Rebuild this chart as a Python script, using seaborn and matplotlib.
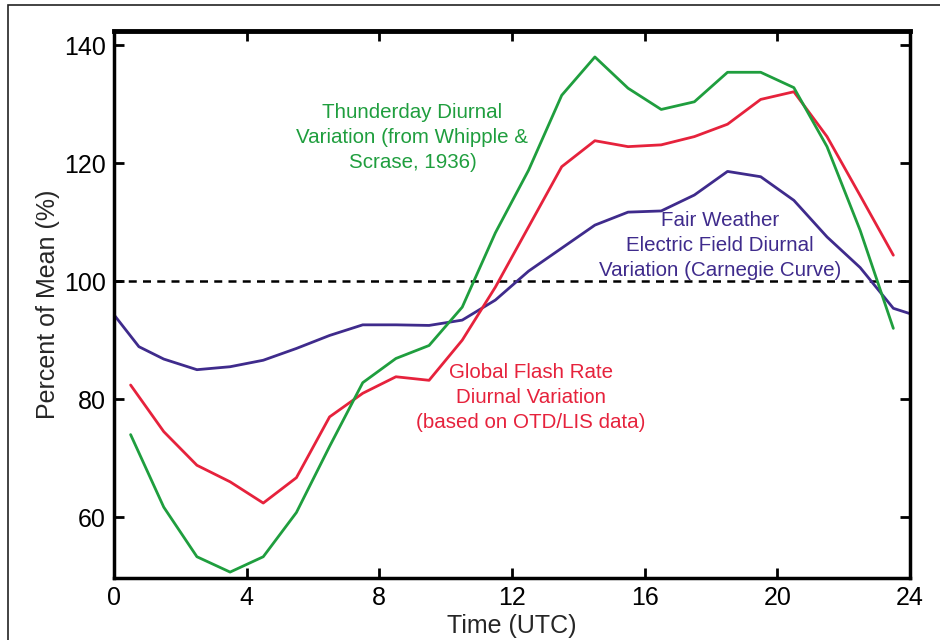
import numpy as np
import pandas as pd
import matplotlib.pyplot as plt
from matplotlib.patches import Rectangle
import seaborn as sns

# hours (UTC) and percent-of-mean values
hours_thunder = [0.5, 1.5, 2.5, 3.5, 4.5, 5.5, 6.5, 7.5, 8.5, 9.5, 10.5, 11.5,
                 12.5, 13.5, 14.5, 15.5, 16.5, 17.5, 18.5, 19.5, 20.5, 21.5, 22.5, 23.5]
thunder = [74.0, 61.7, 53.3, 50.7, 53.3, 60.8, 72.0, 82.8, 86.9, 89.1, 95.6, 108.2,
           118.8, 131.5, 138.0, 132.7, 129.1, 130.4, 135.4, 135.4, 132.8, 122.8, 108.6, 92.0]

hours_flash = hours_thunder
flash = [82.4, 74.5, 68.8, 66.0, 62.4, 66.7, 77.0, 81.0, 83.8, 83.2, 90.0, 99.0,
         109.2, 119.4, 123.8, 122.8, 123.1, 124.5, 126.6, 130.8, 132.1, 124.5, 114.5, 104.4]

hours_carnegie = [0.0, 0.75, 1.5, 2.5, 3.5, 4.5, 5.5, 6.5, 7.5, 8.5, 9.5, 10.5, 11.5,
                  12.5, 13.5, 14.5, 15.5, 16.5, 17.5, 18.5, 19.5, 20.5, 21.5, 22.5, 23.5, 24.0]
carnegie = [94.3, 88.9, 86.8, 85.0, 85.5, 86.6, 88.6, 90.8, 92.6, 92.6, 92.5, 93.4, 96.8,
            101.7, 105.6, 109.5, 111.7, 111.9, 114.6, 118.6, 117.7, 113.7, 107.5, 102.3, 95.4, 94.5]

green = "#1f9e3e"
red = "#e6223c"
purple = "#3f2b8c"

sns.set_style("ticks")
plt.rcParams['font.family'] = ['Liberation Sans', 'DejaVu Sans']

fig = plt.figure(figsize=(9.4, 6.4), dpi=100)
ax = fig.add_axes([0.1213, 0.0969, 0.968 - 0.1213, 0.9516 - 0.0969])

df_t = pd.DataFrame({"Time": hours_thunder, "Value": thunder})
df_f = pd.DataFrame({"Time": hours_flash, "Value": flash})
df_c = pd.DataFrame({"Time": hours_carnegie, "Value": carnegie})

sns.lineplot(data=df_c, x="Time", y="Value", color=purple, lw=2.0, ax=ax)
sns.lineplot(data=df_f, x="Time", y="Value", color=red, lw=2.0, ax=ax)
sns.lineplot(data=df_t, x="Time", y="Value", color=green, lw=2.0, ax=ax)

ax.axhline(100, color="black", lw=1.8, ls=(0, (3.2, 2.5)), zorder=1)

ax.set_xlim(0, 24)
ax.set_ylim(49.7, 142.4)
ax.set_xticks(np.arange(0, 25, 4))
ax.set_yticks(np.arange(60, 141, 20))
ax.tick_params(direction="in", length=7, width=2, top=True, right=True,
               labelsize=18, pad=6, colors="black")
for s in ax.spines.values():
    s.set_linewidth(2.5)
    s.set_color("black")
ax.spines["top"].set_linewidth(3.5)

ax.set_xlabel("Time (UTC)", fontsize=18, labelpad=3)
ax.set_ylabel("Percent of Mean (%)", fontsize=18, labelpad=3)

ax.text(9.0, 124.4, "Thunderday Diurnal\nVariation (from Whipple &\nScrase, 1936)",
        color=green, fontsize=14.8, ha="center", va="center", linespacing=1.4)
ax.text(12.57, 80.3, "Global Flash Rate\nDiurnal Variation\n(based on OTD/LIS data)",
        color=red, fontsize=14.8, ha="center", va="center", linespacing=1.4)
ax.text(18.28, 106.1, "Fair Weather\nElectric Field Diurnal\nVariation (Carnegie Curve)",
        color=purple, fontsize=14.8, ha="center", va="center", linespacing=1.4)

# outer frame, cut off at right and bottom like the source image
fig.add_artist(Rectangle((8 / 940, -0.1), 1.2, 1 - 5 / 640 + 0.1, transform=fig.transFigure,
                         fill=False, lw=1.2, edgecolor="#222222"))

plt.savefig("out.png", dpi=100)
